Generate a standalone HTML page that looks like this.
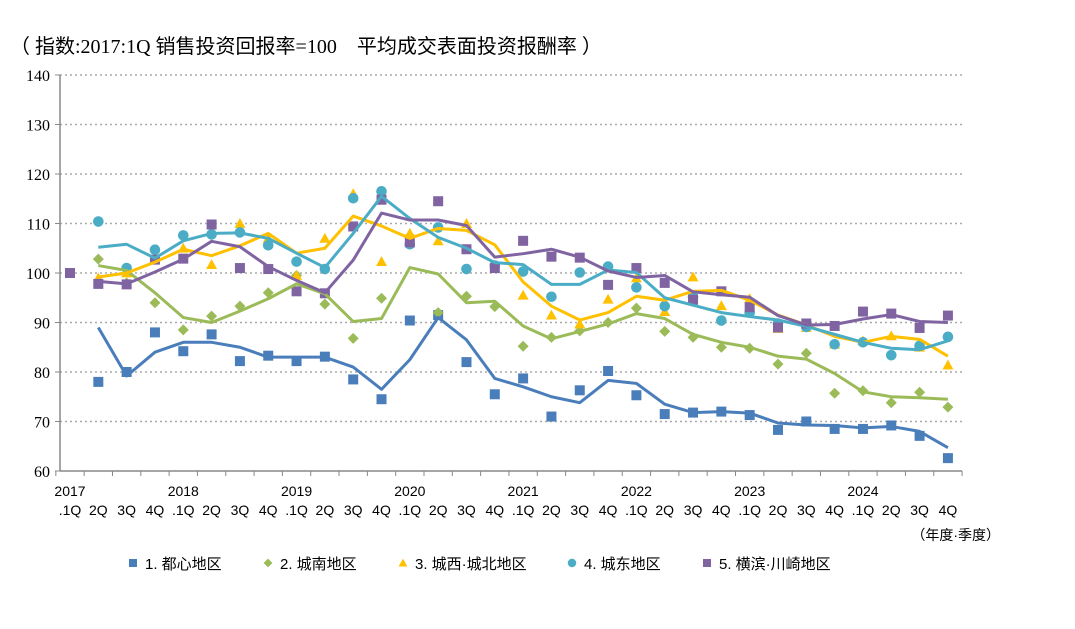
<!DOCTYPE html>
<html><head><meta charset="utf-8"><style>
body{margin:0;background:#fff;width:1075px;height:624px;overflow:hidden}
text{font-family:"Liberation Sans","Noto Sans CJK SC",sans-serif;fill:#000}
.sf{font-family:"Liberation Serif","Noto Sans CJK SC",serif}
</style></head><body>
<svg id="s" width="1075" height="624" xmlns="http://www.w3.org/2000/svg"></svg>
<script>
const s=document.getElementById('s');let h='';
const X=i=>70+28.32*i, Y=v=>471-(v-60)*4.95;
h+='<text x="10" y="53" font-size="20" class="sf">（ 指数:2017:1Q 销售投资回报率=100　平均成交表面投资报酬率 ）</text>';
for(let v=60;v<=140;v+=10){const y=Y(v);
 if(v>60)h+=`<line x1="60" x2="962" y1="${y}" y2="${y}" stroke="#aaa" stroke-width="1.5" stroke-dasharray="2,3"/>`;
 h+=`<line x1="55" x2="60" y1="${y}" y2="${y}" stroke="#888"/><text x="50" y="${y+6}" font-size="16" text-anchor="end" class="sf">${v}</text>`;}
h+=`<line x1="60" x2="60" y1="75" y2="471" stroke="#888" stroke-width="1.5"/><line x1="60" x2="962" y1="471" y2="471" stroke="#888" stroke-width="1.5"/>`;
for(let i=0;i<=32;i++){const x=X(i)-14.16;h+=`<line x1="${x}" x2="${x}" y1="471" y2="476" stroke="#888"/>`;}
for(let i=0;i<32;i++){const q=i%4;const x=X(i);
 if(q==0)h+=`<text x="${x}" y="496" font-size="14" text-anchor="middle">${2017+i/4}</text>`;
 h+=`<text x="${x}" y="515" font-size="14" text-anchor="middle">${q==0?'.1Q':(q+1)+'Q'}</text>`;}
h+='<text x="1000" y="540" font-size="14" text-anchor="end">（年度·季度）</text>';
const C=['#4a7ebb','#9bbb59','#ffc000','#4bacc6','#8064a2'];
const M=[
[null,78,80,88,84.2,87.6,82.2,83.3,82.2,83.1,78.5,74.5,90.4,91.5,82,75.5,78.7,71,76.3,80.2,75.3,71.5,71.8,72,71.3,68.3,70,68.5,68.5,69.2,67.1,62.6],
[null,102.8,98,94,88.5,91.3,93.3,96,99.5,93.7,86.8,94.9,107.5,92,95.3,93.2,85.2,87,88.3,90,92.9,88.2,87,85,84.8,81.6,83.8,75.7,76.2,73.8,75.9,72.9],
[null,99,100,103,105,101.7,110,107,99.5,107,116,102.3,108,106.5,110,101,95.5,91.5,89.7,94.7,99,92.2,99.2,93.4,94.8,88.8,89,85.6,86.3,87.3,85,81.4],
[null,110.4,101,104.7,107.6,107.8,108.2,105.6,102.3,100.8,115.1,116.5,105.8,109.2,100.8,101.5,100.3,95.2,100.1,101.3,97.1,93.3,95.2,90.4,92,89.8,89.1,85.6,86,83.4,85.3,87.1],
[100,97.8,97.7,102.7,102.9,109.8,101,100.8,96.3,95.9,109.4,114.8,106.2,114.5,104.8,101,106.5,103.3,103.1,97.6,101,98,94.6,96.3,93.1,89,89.8,89.3,92.2,91.8,88.9,91.4]];
const L=[
[89,79.2,84,86,86,85,83,83,83,81,76.5,82.5,91,86.5,78.7,77,75,73.8,78.3,77.7,73.5,71.8,72,71.7,69.7,69.3,69.2,68.7,69,68,64.7],
[101.5,100.5,96,91,90,92.3,94.8,97.8,95.8,90.2,90.8,101.1,99.8,94,94.3,89.3,86.7,88.2,89.7,91.8,90.8,87.6,86,85,83.2,82.6,79.7,76,75,74.8,74.5],
[99.2,100,102.2,104.8,103.5,105.5,108,104,105,111.5,109.5,107,109,108.6,105.7,98.2,93.3,90.5,92,95.3,94.5,96.3,96.5,94.5,91.5,89.5,87.2,86,87.2,86.6,83.2],
[105.2,105.8,103,106.5,108,108.1,107,104,101.1,108,115.5,111,107.2,105,102.1,101.7,97.7,97.7,100.6,100.1,95,93.5,92,91.2,90.5,89.2,87.6,86,84.8,84.5,86.3],
[98.3,97.8,100.2,102.8,106.4,105.3,101.3,98.5,96,102.6,112.1,110.7,110.7,109.6,103.2,103.9,104.8,103.2,100.4,99.1,99.5,96.2,95.6,95.1,91.4,89.5,89.6,90.7,91.6,90.2,90]];
function mk(k,x,y,sz){const c=C[k];sz=sz||1;
 if(k==0||k==4){const a=5*sz;return `<rect x="${x-a}" y="${y-a}" width="${2*a}" height="${2*a}" fill="${c}"/>`;}
 if(k==1){const a=5.5*sz;return `<polygon points="${x},${y-a} ${x+a},${y} ${x},${y+a} ${x-a},${y}" fill="${c}"/>`;}
 if(k==2){const a=5.5*sz;return `<polygon points="${x},${y-a} ${x+a},${y+a*0.8} ${x-a},${y+a*0.8}" fill="${c}"/>`;}
 return `<circle cx="${x}" cy="${y}" r="${5.3*sz}" fill="${c}"/>`;}
for(let k=0;k<5;k++){M[k].forEach((v,i)=>{if(v!=null)h+=mk(k,X(i),Y(v));});}
for(let k=0;k<5;k++){h+=`<polyline fill="none" stroke="${C[k]}" stroke-width="3" stroke-linejoin="round" points="${L[k].map((v,i)=>X(i+1)+','+Y(v)).join(' ')}"/>`;}
const lg=[[133,'1. 都心地区'],[268,'2. 城南地区'],[403,'3. 城西·城北地区'],[572,'4. 城东地区'],[707,'5. 横滨·川崎地区']];
lg.forEach((e,k)=>{h+=mk(k,e[0],563,0.8)+`<text x="${e[0]+12}" y="569" font-size="15">${e[1]}</text>`;});
s.innerHTML=h;
</script>
</body></html>
